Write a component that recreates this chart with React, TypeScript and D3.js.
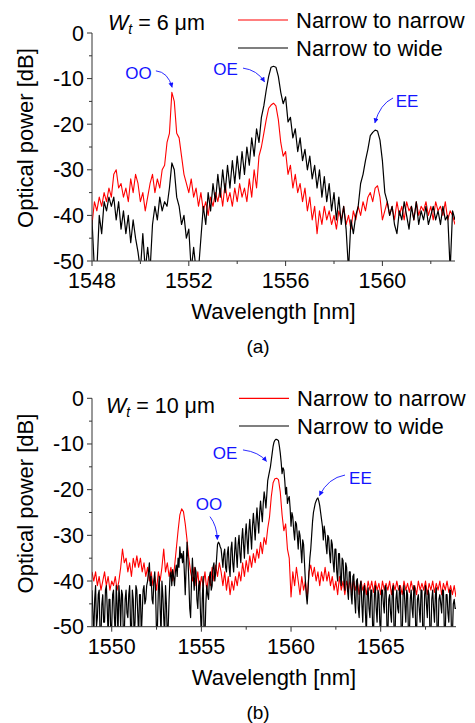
import React from "react";
import * as d3 from "d3";

// ---------- DATA ----------
// Panel (a): W_t = 6 um, wavelength 1548.0 .. 1563.0 nm, step 0.1 nm
const topStart = 1548.0;
const topStep = 0.1;
const topNarrowToNarrow = [
  -42, -37, -39, -36, -38, -35, -37, -34, -36, -31,
  -30, -34, -33, -36, -34, -37, -32, -35, -31, -33,
  -37, -35, -39, -36, -33, -31, -35, -32, -34, -30,
  -29, -24, -22, -13, -15, -22, -23, -27, -31, -33,
  -35, -32, -36, -34, -38, -35, -39, -37, -40, -36,
  -38, -35, -37, -34, -38, -33, -37, -35, -38, -34,
  -37, -33, -36, -34, -37, -32, -36, -30, -34, -27,
  -25, -22, -19, -16.5, -15.8, -15.4, -16, -19, -24, -27,
  -26, -31, -29, -34, -31, -35, -33, -37, -34, -39,
  -36, -41, -38, -44, -39, -42, -38, -41, -39, -42,
  -40, -43, -39, -41, -38, -42, -40, -43, -39, -41,
  -38, -40, -37, -39, -36, -35, -37, -34, -33.5, -36,
  -41, -39, -37, -40, -38, -41, -37, -40, -38, -41,
  -37, -39, -38, -41, -37, -40, -38, -39, -37, -40,
  -38, -41, -37, -39, -38, -40, -37, -41, -39, -40,
  -42,
];
const topNarrowToWide = [
  -41, -52, -52, -40, -44, -37, -39, -36, -38, -36,
  -41, -37, -43, -39, -44, -40, -46, -41, -45, -48,
  -52, -44, -52, -47, -52, -42, -38, -41, -36, -39,
  -37, -38, -34, -28.5, -30, -36, -38, -42, -40, -45,
  -43, -52, -47, -52, -52, -45, -38, -42, -35, -39,
  -33, -37, -31, -36, -30, -35, -29, -34, -28, -33,
  -27, -32, -26, -31, -25, -29, -23, -27, -21, -24,
  -18.5, -16, -12.5, -9.5, -7.5, -7.3, -7.5, -9.5, -13, -15.5,
  -14, -19.5, -18.5, -23, -21, -26, -23, -28, -25.5, -30,
  -27, -32, -29, -34, -30, -36, -31.5, -37, -33, -39,
  -35, -41, -36, -42, -38, -43, -52, -41, -44, -40,
  -38, -33, -31, -28, -25.5, -22.5, -21.8, -21.3, -21.5, -23.5,
  -28, -35, -37, -40, -38, -42, -44, -39, -41, -37,
  -40, -43, -38, -41, -37, -42, -39, -41, -38, -42,
  -40, -38, -41, -39, -42, -38, -41, -40, -52, -39,
  -41,
];

// Panel (b): W_t = 10 um, wavelength from 1548.9 nm
const botStart = 1548.9;
const botRedStep = 0.1; // 1548.9 .. 1569.2
const botNarrowToNarrow = [
  -38, -40, -38, -41, -39, -42, -40, -38, -41, -39,
  -42, -40, -41, -39, -42, -40, -37, -33, -36, -35,
  -38, -36, -39, -35, -37, -34.5, -37, -35, -38, -36,
  -39, -37, -40, -38, -41, -39, -42, -38, -40, -37,
  -33, -38, -36, -39, -37, -40, -37, -33, -29, -25.5,
  -24.2, -24.8, -27.5, -31, -35, -38, -40, -37, -41, -38,
  -42, -39, -41, -38, -42, -39, -41, -37, -40, -36.5,
  -39, -36, -38, -41, -38, -42, -39, -43, -40, -42,
  -39, -41, -38, -40, -36, -39, -35.5, -38, -34.5, -37,
  -34, -36, -33, -35, -31.5, -34, -30.5, -32, -28.5, -26,
  -21.5, -18.5, -17.6, -17.5, -17.8, -20.5, -25.5, -29, -27.5, -33,
  -35, -43.5, -38, -41, -37, -40, -43, -39, -42, -40,
  -44, -38, -36.5, -39, -37, -40, -38, -41, -38, -40,
  -37, -40, -38, -41, -39, -42, -40, -43, -39, -42,
  -40, -43, -40, -42, -39.5, -43, -40, -42, -40, -43,
  -40, -42, -40.5, -43, -40, -42, -40, -42.5, -40, -42,
  -40.5, -43, -40, -42, -40.5, -42, -40, -43, -40.5, -42,
  -40, -42, -41, -43, -40, -42, -40.5, -42.5, -40, -42,
  -41, -43, -40, -42, -40.5, -42, -40, -43, -40.5, -42,
  -40, -42.5, -40.5, -42, -40, -43, -40.5, -42, -40, -42.5,
  -41, -43, -41, -43.5,
];
const botBlackStep = 0.05; // 1548.90 .. 1569.20, 20 values per nm
const botNarrowToWide = [
  -42, -47, -52, -44, -41, -50, -48, -43, -42, -52, -52, -45, -43, -49, -49, -42, -41, -46, -52, -44,
  -44, -52, -50, -43, -42, -48, -52, -41, -45, -52, -41, -44, -50, -42, -43, -52, -52, -44, -42, -47,
  -48, -43, -41, -50, -52, -42, -44, -52, -49, -41, -42, -47, -52, -43, -43, -52, -47, -42, -41, -45,
  -44, -41, -40, -38, -36, -41, -39, -44, -45, -40, -38, -43, -52, -50, -42, -39, -46, -52, -40, -43,
  -48, -52, -41, -45, -52, -50, -44, -39, -38, -41, -37.5, -39, -41, -38, -36.5, -39, -35, -37, -32.5, -35,
  -34, -36, -33.5, -38, -43, -37, -31.5, -35, -40, -46, -48, -40, -35, -39, -42, -37, -38, -44, -46, -41,
  -40, -47, -52, -44, -39, -52, -52, -45, -41, -43, -44, -39, -38, -42, -41, -37, -36, -40, -38, -35,
  -32, -31.5, -31.8, -32.5, -33, -35, -37, -34, -33, -37, -38, -34, -32.5, -37, -39, -33, -31.5, -36, -38, -34,
  -30.5, -34, -37, -32, -30, -34, -36, -31, -28.5, -32, -35, -30, -27.5, -31, -34, -29, -26.5, -30, -33, -28,
  -25.2, -28, -31, -27, -24, -27, -29.5, -25, -22.5, -25, -27, -23, -20.5, -22, -24, -21, -18, -17, -16, -15,
  -13.5, -12, -10.5, -9.6, -9.2, -9.0, -9.0, -9.1, -9.3, -10.5, -12, -14, -16.5, -15.2, -15.7, -18, -21, -19.5, -23, -22,
  -21.5, -24, -28, -25, -26, -29, -31, -27, -27.5, -30, -33, -29, -30, -33, -36, -31, -32, -36, -40, -43,
  -45, -42, -38, -35, -33, -30, -27, -25, -24, -23, -22.5, -22, -21.8, -22.5, -23.5, -25, -26.5, -28, -31, -28,
  -29.5, -32, -34, -30, -30.5, -34, -36, -31, -32, -36, -38, -33, -33, -38, -40, -34, -34, -39, -41, -35,
  -35.5, -40, -42, -36, -37, -42, -44, -38, -38, -43, -45, -39, -38.5, -44, -47, -40, -39.5, -46, -48, -41,
  -40, -45, -49, -42, -41, -47, -52, -43, -41.5, -46, -48, -42, -42, -50, -52, -43, -41, -46, -49, -42,
  -43, -49, -52, -42, -42, -45, -47, -41, -41.5, -50, -52, -44, -43, -47, -49, -42, -41, -52, -52, -44,
  -42, -46, -47, -41, -42.5, -52, -52, -43, -41, -45, -49, -42, -43, -52, -52, -44, -42, -46, -48, -41,
  -41.5, -50, -52, -44, -43, -46, -49, -42, -42, -52, -52, -43, -41, -45, -48, -42, -43, -52, -52, -44,
  -42, -46, -49, -43, -41.5, -52, -52, -44, -43, -45, -47, -42, -42, -51, -52, -43, -43, -47, -49, -42,
  -42, -52, -52, -45, -44, -46, -46,
];

const seriesNames = ["Narrow to narrow", "Narrow to wide"];
const topXMajor = [1548, 1552, 1556, 1560];
const topXMinor = [1550, 1554, 1558, 1562];
const botXMajor = [1550, 1555, 1560, 1565];
const botXMinor = [1552.5, 1557.5, 1562.5, 1567.5];
const yMajor = [0, -10, -20, -30, -40, -50];
const yMinor = [-5, -15, -25, -35, -45];

// ---------- STYLE ----------
const FONT = "'Liberation Sans', Arial, Helvetica, sans-serif";
const RED = "#ff0000";
const BLACK = "#000000";
const BLUE = "#1414ff";
const AXIS = "#333333";

type Ann = {
  label: string;
  text: [number, number];
  from: [number, number];
  ctrl: [number, number];
  to: [number, number];
};

type PanelProps = {
  id: string;
  left: number;
  right: number;
  top: number;
  bottom: number;
  xDomain: [number, number];
  start: number;
  redStep: number;
  blackStep: number;
  red: number[];
  black: number[];
  xMajor: number[];
  xMinor: number[];
  wt: string;
  wtPos: [number, number];
  legendX: number;
  legendY: [number, number];
  caption: string;
  anns: Ann[];
};

function Panel(p: PanelProps) {
  const x = d3.scaleLinear().domain(p.xDomain).range([p.left, p.right]);
  const y = d3.scaleLinear().domain([-50, 0]).range([p.bottom, p.top]);
  const mk = (start: number, step: number) =>
    d3
      .line<number>()
      .x((_, i) => x(start + i * step))
      .y((d) => y(d));
  const redLine = mk(p.start, p.redStep);
  const blackLine = mk(p.start, p.blackStep);
  const clipId = `clip-${p.id}`;
  const yMid = (p.top + p.bottom) / 2 - 9;
  const xMid = (p.left + p.right) / 2;
  return (
    <g>
      <defs>
        <clipPath id={clipId}>
          <rect x={p.left} y={p.top - 40} width={p.right - p.left} height={p.bottom - p.top + 40} />
        </clipPath>
      </defs>
      <g clipPath={`url(#${clipId})`}>
        <path d={redLine(p.red) || ""} fill="none" stroke={RED} strokeWidth={1.1} strokeLinejoin="round" />
        <path d={blackLine(p.black) || ""} fill="none" stroke={BLACK} strokeWidth={1.2} strokeLinejoin="round" />
      </g>
      {/* axes */}
      <line x1={p.left} x2={p.left} y1={p.top} y2={p.bottom} stroke={AXIS} strokeWidth={1} />
      <line x1={p.left} x2={p.right} y1={p.bottom} y2={p.bottom} stroke={AXIS} strokeWidth={1} />
      {yMajor.map((v) => (
        <g key={`ym${v}`}>
          <line x1={p.left - 5} x2={p.left} y1={y(v)} y2={y(v)} stroke={AXIS} />
          <text x={p.left - 8} y={y(v) + 7.5} textAnchor="end" fontSize={21.5} fontFamily={FONT}>
            {v}
          </text>
        </g>
      ))}
      {yMinor.map((v) => (
        <line key={`yn${v}`} x1={p.left - 3} x2={p.left} y1={y(v)} y2={y(v)} stroke={AXIS} />
      ))}
      {p.xMajor.map((v) => (
        <g key={`xm${v}`}>
          <line x1={x(v)} x2={x(v)} y1={p.bottom} y2={p.bottom + 5} stroke={AXIS} />
          <text x={x(v)} y={p.bottom + 27} textAnchor="middle" fontSize={21.5} fontFamily={FONT}>
            {v}
          </text>
        </g>
      ))}
      {p.xMinor.map((v) => (
        <line key={`xn${v}`} x1={x(v)} x2={x(v)} y1={p.bottom} y2={p.bottom + 3} stroke={AXIS} />
      ))}
      <text
        transform={`translate(33,${yMid}) rotate(-90)`}
        textAnchor="middle"
        fontSize={22}
        fontFamily={FONT}
      >
        Optical power [dB]
      </text>
      <text x={xMid} y={p.bottom + 58} textAnchor="middle" fontSize={22} fontFamily={FONT}>
        Wavelength [nm]
      </text>
      <text x={258} y={p.bottom + 92} textAnchor="middle" fontSize={19} fontFamily={FONT}>
        {p.caption}
      </text>
      {/* W_t label */}
      <text x={p.wtPos[0]} y={p.wtPos[1]} fontSize={21.5} fontFamily={FONT}>
        <tspan fontStyle="italic">W</tspan>
        <tspan fontStyle="italic" fontSize={14} dy={4}>
          t
        </tspan>
        <tspan dy={-4}>{` = ${p.wt} \u03bcm`}</tspan>
      </text>
      {/* legend */}
      {[RED, BLACK].map((c, i) => (
        <g key={c}>
          <line
            x1={p.legendX}
            x2={p.legendX + 50}
            y1={p.legendY[i]}
            y2={p.legendY[i]}
            stroke={c}
            strokeWidth={1.2}
          />
          <text x={p.legendX + 58} y={p.legendY[i] + 7.5} fontSize={22} fontFamily={FONT}>
            {seriesNames[i]}
          </text>
        </g>
      ))}
      {/* annotations */}
      {p.anns.map((a) => (
        <g key={a.label}>
          <text
            x={x(a.text[0])}
            y={y(a.text[1]) + 6}
            textAnchor="middle"
            fontSize={17}
            fontFamily={FONT}
            fill={BLUE}
          >
            {a.label}
          </text>
          <path
            d={`M${x(a.from[0])},${y(a.from[1])} Q${x(a.ctrl[0])},${y(a.ctrl[1])} ${x(a.to[0])},${y(a.to[1])}`}
            fill="none"
            stroke={BLUE}
            strokeWidth={0.9}
            markerEnd="url(#arrowhead)"
          />
        </g>
      ))}
    </g>
  );
}

export default function App() {
  return (
    <svg
      width={475}
      height={723}
      viewBox="0 0 475 723"
      style={{ position: "absolute", left: 0, top: 0, background: "#fff" }}
    >
      <defs>
        <marker
          id="arrowhead"
          viewBox="0 0 10 10"
          refX={9}
          refY={5}
          markerWidth={6}
          markerHeight={5}
          markerUnits="userSpaceOnUse"
          orient="auto"
        >
          <path d="M0,0 L10,5 L0,10 z" fill={BLUE} />
        </marker>
      </defs>
      <rect x={0} y={0} width={475} height={723} fill="#fff" />
      <Panel
        id="a"
        left={92}
        right={455}
        top={33}
        bottom={261}
        xDomain={[1548, 1563]}
        start={topStart}
        redStep={topStep}
        blackStep={topStep}
        red={topNarrowToNarrow}
        black={topNarrowToWide}
        xMajor={topXMajor}
        xMinor={topXMinor}
        wt="6"
        wtPos={[108, 30]}
        legendX={238}
        legendY={[20, 48]}
        caption="(a)"
        anns={[
          { label: "OO", text: [1549.92, -8.8], from: [1550.64, -8.3], ctrl: [1551.14, -8.55], to: [1551.31, -11.9] },
          { label: "OE", text: [1553.52, -7.9], from: [1554.24, -7.7], ctrl: [1554.82, -8.1], to: [1555.13, -10.7] },
          { label: "EE", text: [1561.02, -14.9], from: [1560.44, -14.25], ctrl: [1559.9, -15.6], to: [1559.69, -19.7] },
        ]}
      />
      <Panel
        id="b"
        left={92}
        right={456}
        top={398.3}
        bottom={626.7}
        xDomain={[1548.9, 1569.2]}
        start={botStart}
        redStep={botRedStep}
        blackStep={botBlackStep}
        red={botNarrowToNarrow}
        black={botNarrowToWide}
        xMajor={botXMajor}
        xMinor={botXMinor}
        wt="10"
        wtPos={[106, 413]}
        legendX={239}
        legendY={[398.3, 426]}
        caption="(b)"
        anns={[
          { label: "OE", text: [1556.32, -11.9], from: [1557.32, -11.3], ctrl: [1558.21, -11.75], to: [1558.63, -13.8] },
          { label: "EE", text: [1563.87, -17.55], from: [1563.01, -16.8], ctrl: [1562.06, -17.45], to: [1561.59, -21.3] },
          { label: "OO", text: [1555.43, -23.1], from: [1555.48, -25.9], ctrl: [1555.87, -27.9], to: [1555.89, -30.9] },
        ]}
      />
    </svg>
  );
}
